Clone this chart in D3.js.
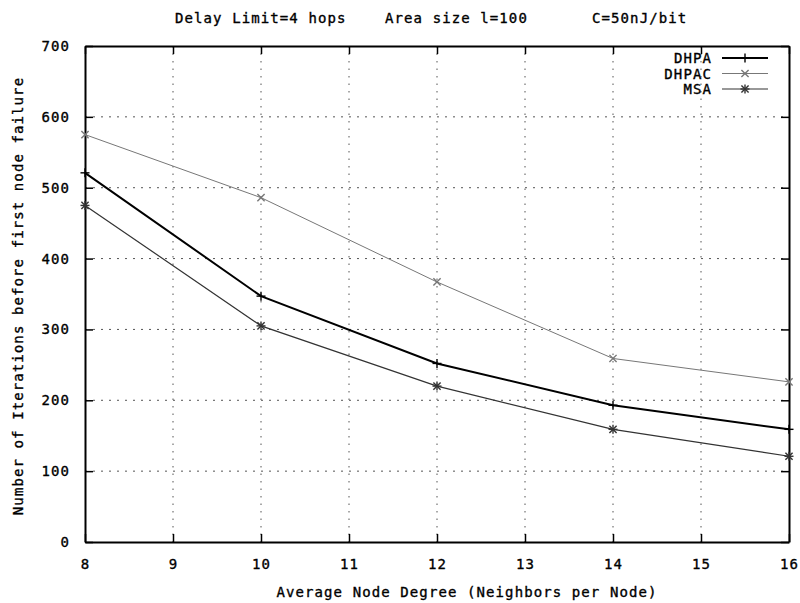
<!DOCTYPE html>
<html>
<head>
<meta charset="utf-8">
<script src="https://cdn.jsdelivr.net/npm/d3@7"></script>
<style>
  html, body { margin: 0; padding: 0; background: #fff; }
  svg text { font-family: "DejaVu Sans Mono", "Liberation Mono", monospace; font-size: 14px; fill: #000; stroke: #000; stroke-width: 0.35px; letter-spacing: 1.1px; }
</style>
</head>
<body>
<svg id="chart" width="800" height="603"></svg>
<script>
// Average node degree on the x axis
const degrees = [8, 10, 12, 14, 16];
// Iterations before the first node failure, per scheme
const dhpa  = [521, 347, 252, 193, 159];
const dhpac = [575, 486, 367, 259, 226];
const msa   = [475, 305, 220, 159, 121];
const xTicks = [8, 9, 10, 11, 12, 13, 14, 15, 16];
const yTicks = [0, 100, 200, 300, 400, 500, 600, 700];

const series = [
  { name: "DHPA",  values: dhpa,  color: "#000", width: 2.0, marker: "plus" },
  { name: "DHPAC", values: dhpac, color: "#777", width: 1.0, marker: "cross" },
  { name: "MSA",   values: msa,   color: "#333", width: 1.2, marker: "star" }
];

const svg = d3.select("#chart");
const plotL = 85, plotR = 789, plotT = 46, plotB = 542;

const x = d3.scaleLinear().domain([8, 16]).range([plotL, plotR]);
const y = d3.scaleLinear().domain([0, 700]).range([plotB, plotT]);

// Dotted grid
const grid = svg.append("g");
grid.selectAll("line.vx").data(xTicks.slice(1, -1)).enter().append("line")
  .attr("x1", d => x(d)).attr("x2", d => x(d)).attr("y1", plotT).attr("y2", plotB)
  .attr("stroke", "#555").attr("stroke-width", 1).attr("stroke-dasharray", "1.5,6");
grid.selectAll("line.hy").data(yTicks.slice(1, -1)).enter().append("line")
  .attr("x1", plotL).attr("x2", plotR).attr("y1", d => y(d)).attr("y2", d => y(d))
  .attr("stroke", "#555").attr("stroke-width", 1).attr("stroke-dasharray", "2,6");

// Axes with inward ticks on all four sides
const axB = d3.axisBottom(x).tickValues(xTicks).tickSizeInner(-8).tickSizeOuter(0).tickPadding(17);
const axT = d3.axisTop(x).tickValues(xTicks).tickSizeInner(-8).tickSizeOuter(0).tickFormat("");
const axL = d3.axisLeft(y).tickValues(yTicks).tickSizeInner(-8).tickSizeOuter(0).tickPadding(15);
const axR = d3.axisRight(y).tickValues(yTicks).tickSizeInner(-8).tickSizeOuter(0).tickFormat("");

[[axB, `translate(0,${plotB})`], [axT, `translate(0,${plotT})`],
 [axL, `translate(${plotL},0)`], [axR, `translate(${plotR},0)`]].forEach(([ax, tr]) => {
  const g = svg.append("g").attr("transform", tr).call(ax);
  g.select(".domain").attr("stroke", "#000").attr("stroke-width", 2);
  g.selectAll(".tick line").attr("stroke", "#000").attr("stroke-width", 1.5);
  g.selectAll("text").attr("font-family", "DejaVu Sans Mono").attr("font-size", 15).attr("fill", "#000");
});

// Marker shapes
function drawMarker(g, type, cx, cy, color) {
  const s = 4.5;
  const seg = (x1, y1, x2, y2) => g.append("line")
    .attr("x1", cx + x1).attr("y1", cy + y1).attr("x2", cx + x2).attr("y2", cy + y2)
    .attr("stroke", color).attr("stroke-width", 1.4);
  if (type === "plus" || type === "star") { seg(-s, 0, s, 0); seg(0, -s, 0, s); }
  if (type === "cross" || type === "star") { seg(-s * 0.8, -s * 0.8, s * 0.8, s * 0.8); seg(-s * 0.8, s * 0.8, s * 0.8, -s * 0.8); }
}

// Series lines and points
const lineGen = d3.line().x(d => x(d[0])).y(d => y(d[1]));
series.forEach(s => {
  const pts = degrees.map((d, i) => [d, s.values[i]]);
  svg.append("path").datum(pts).attr("d", lineGen)
    .attr("fill", "none").attr("stroke", s.color).attr("stroke-width", s.width);
  const mg = svg.append("g");
  pts.forEach(p => drawMarker(mg, s.marker, x(p[0]), y(p[1]), s.color));
});

// Legend
series.forEach((s, i) => {
  const ly = 58 + i * 15.5;
  svg.append("text").attr("x", 712).attr("y", ly + 5).attr("text-anchor", "end").text(s.name);
  svg.append("line").attr("x1", 722).attr("x2", 768).attr("y1", ly).attr("y2", ly)
    .attr("stroke", s.color).attr("stroke-width", s.width);
  drawMarker(svg.append("g"), s.marker, 745, ly, s.color);
});

// Title and axis labels
svg.append("text").attr("x", 175).attr("y", 23).text("Delay Limit=4 hops");
svg.append("text").attr("x", 385).attr("y", 23).text("Area size l=100");
svg.append("text").attr("x", 592).attr("y", 23).text("C=50nJ/bit");
svg.append("text").attr("x", (plotL + plotR) / 2 + 30).attr("y", 597).attr("text-anchor", "middle")
  .text("Average Node Degree (Neighbors per Node)");
svg.append("text").attr("transform", `translate(23,${(plotT + plotB) / 2 + 2}) rotate(-90)`)
  .attr("text-anchor", "middle").text("Number of Iterations before first node failure");
</script>
</body>
</html>
